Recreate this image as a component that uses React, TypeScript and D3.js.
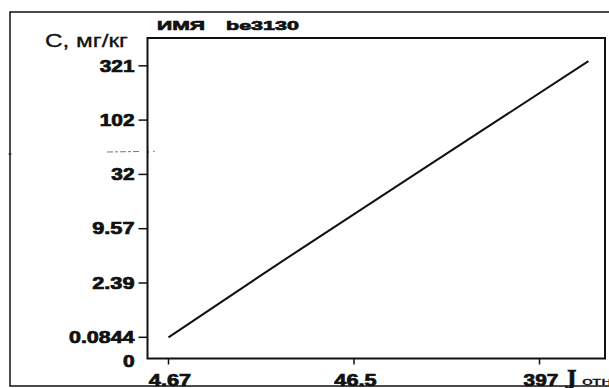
import React from "react";
import * as d3 from "d3";

// Axis tick values (as printed on the reference)
const xTickValues = [4.67, 46.5, 397];
const xTickLabels = ["4.67", "46.5", "397"];
const yTickValues = [0.0844, 2.39, 9.57, 32, 102, 321];
const yTickLabels = ["0.0844", "2.39", "9.57", "32", "102", "321"];

// Curve points (J_отн, C mg/kg)
const curveX = [4.67, 16.5, 23.9, 99.9, 699];
const curveY = [0.0844, 3.41, 5.65, 34.5, 354];

const titleName = "ИМЯ";
const titleId = "be3130";
const yAxisTitle = "С, мг/кг";

const W = 609;
const H = 388;
const plot = { left: 147.5, top: 38, right: 605, bottom: 358.5 };
const xStart = plot.left + 21;
const xStep = 185.5;
const yStart = plot.bottom - 21.2;
const yStep = 54.3;

const labelFont = "'Liberation Sans', Arial, sans-serif";

// width of a stretched label, emulating the wide print face
function labelWidth(s: string): number {
  let w = 0;
  for (const c of s) w += c === "." ? 7.5 : 11.6;
  return w;
}

const heavy = { stroke: "#111", strokeWidth: 0.7, paintOrder: "stroke" as const };

export default function App() {
  const x = d3
    .scaleLog()
    .domain(xTickValues)
    .range(xTickValues.map((_, i) => xStart + i * xStep));
  const y = d3
    .scaleLog()
    .domain(yTickValues)
    .range(yTickValues.map((_, i) => yStart - i * yStep));

  const line = d3
    .line<number>()
    .x((_, i) => x(curveX[i]))
    .y((d) => y(d));
  const path = line(curveY) || "";

  return (
    <svg
      width={W}
      height={H}
      style={{ position: "absolute", left: 0, top: 0, background: "#fff" }}
    >
      {/* outer frame */}
      <rect x={10} y={12} width={640} height={374} fill="none" stroke="#111" strokeWidth={1.5} />
      {/* scan artefact near y axis */}
      <line x1={107} x2={140} y1={152} y2={151.5} stroke="#777" strokeWidth={1} strokeDasharray="6 2 3 2" />
      <circle cx={148} cy={152} r={0.9} fill="#333" />
      <circle cx={154} cy={151.5} r={0.7} fill="#555" />
      <line x1={8.5} x2={11.5} y1={154} y2={154} stroke="#111" strokeWidth={1} />

      {/* title */}
      <text x={157} y={29.5} fontFamily={labelFont} fontWeight="bold" fontSize={13.5} textLength={48} lengthAdjust="spacingAndGlyphs" fill="#111" {...heavy}>
        {titleName}
      </text>
      <text x={226} y={29.5} fontFamily={labelFont} fontWeight="bold" fontSize={13.5} textLength={73} lengthAdjust="spacingAndGlyphs" fill="#111" {...heavy}>
        {titleId}
      </text>

      {/* y axis title */}
      <text x={45} y={46.7} fontFamily={labelFont} fontSize={19} textLength={83} lengthAdjust="spacingAndGlyphs" fill="#111" stroke="#111" strokeWidth={0.3}>
        {yAxisTitle}
      </text>

      {/* plot box */}
      <rect
        x={plot.left}
        y={plot.top}
        width={plot.right - plot.left}
        height={plot.bottom - plot.top}
        fill="none"
        stroke="#111"
        strokeWidth={2}
      />

      {/* y ticks */}
      {yTickValues.map((v, i) => {
        const lbl = yTickLabels[i];
        const w = labelWidth(lbl);
        return (
          <g key={"y" + i}>
            <line x1={138.5} x2={plot.left} y1={y(v)} y2={y(v)} stroke="#111" strokeWidth={1.5} />
            <text
              x={134.5 - w}
              y={y(v)}
              dy="0.36em"
              fontFamily={labelFont}
              fontWeight="bold"
              fontSize={16}
              textLength={w}
              lengthAdjust="spacingAndGlyphs"
              fill="#111"
              {...heavy}
            >
              {lbl}
            </text>
          </g>
        );
      })}
      <text x={134.5 - labelWidth("0")} y={361.5} dy="0.36em" fontFamily={labelFont} fontWeight="bold" fontSize={16} textLength={labelWidth("0")} lengthAdjust="spacingAndGlyphs" fill="#111" {...heavy}>
        0
      </text>

      {/* x ticks */}
      {xTickValues.map((v, i) => {
        const lbl = xTickLabels[i];
        const w = labelWidth(lbl);
        return (
          <g key={"x" + i}>
            <line x1={x(v)} x2={x(v)} y1={plot.bottom} y2={plot.bottom + 6} stroke="#111" strokeWidth={1.5} />
            <text
              x={x(v) + 1.5 - w / 2}
              y={385.5}
              fontFamily={labelFont}
              fontWeight="bold"
              fontSize={16.5}
              textLength={w}
              lengthAdjust="spacingAndGlyphs"
              fill="#111"
              {...heavy}
            >
              {lbl}
            </text>
          </g>
        );
      })}

      {/* x axis title */}
      <text x={567} y={384.5} fontFamily="'DejaVu Serif', serif" fontWeight="bold" fontSize={20} fill="#111" {...heavy}>
        J
      </text>
      <text x={582} y={385} fontFamily={labelFont} fontSize={11} fill="#111" textLength={30} lengthAdjust="spacingAndGlyphs" stroke="#111" strokeWidth={0.3}>
        отн
      </text>

      {/* curve */}
      <path d={path} fill="none" stroke="#111" strokeWidth={2} />
    </svg>
  );
}
